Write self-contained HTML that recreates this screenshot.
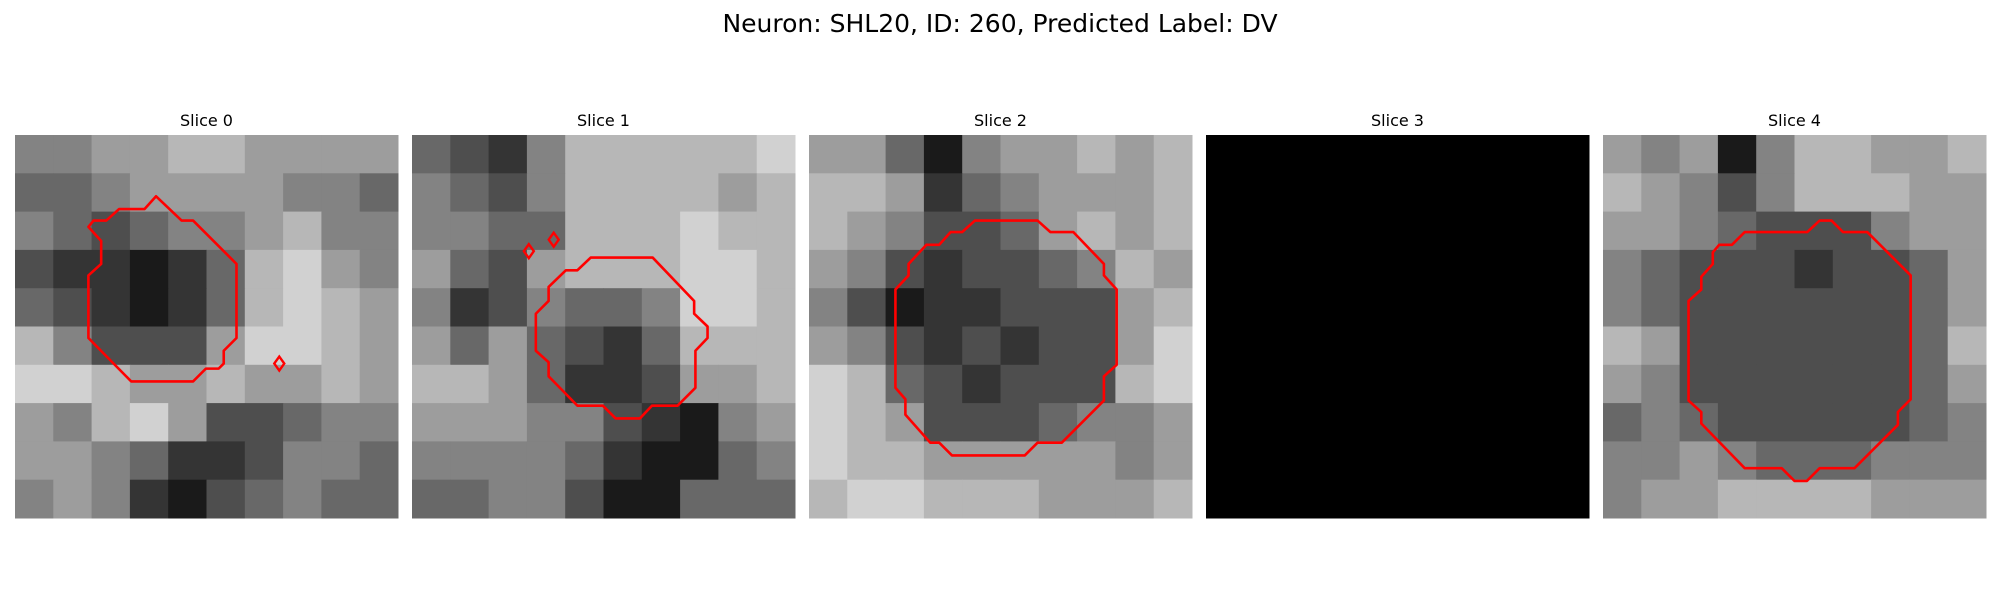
<!DOCTYPE html>
<html><head><meta charset="utf-8"><style>
body{margin:0;background:#fff;width:2000px;height:600px;overflow:hidden;font-family:"Liberation Sans","DejaVu Sans",sans-serif}
</style></head><body>
<svg id="fig" width="2000" height="600" xmlns="http://www.w3.org/2000/svg">
<text x="1000" y="32" text-anchor="middle" font-size="25" font-family="DejaVu Sans, Liberation Sans, sans-serif">Neuron: SHL20, ID: 260, Predicted Label: DV</text>
</svg>
<script>
const sliceTitles = ["Slice 0","Slice 1","Slice 2","Slice 3","Slice 4"];
const panelX = [15, 412, 809, 1206, 1603];
const grid0 = [
[5,5,6,6,7,7,6,6,6,6],[4,4,5,6,6,6,6,5,5,4],[5,4,3,4,5,5,6,7,5,5],[3,2,2,1,2,4,7,8,6,5],[4,3,2,1,2,4,7,8,7,6],
[7,5,3,3,3,6,8,8,7,6],[8,8,7,6,6,7,6,6,7,6],[6,5,7,8,6,3,3,4,5,5],[6,6,5,4,2,2,3,5,5,4],[5,6,5,2,1,3,4,5,4,4]];
const grid1 = [
[4,3,2,5,7,7,7,7,7,8],[5,4,3,5,7,7,7,7,6,7],[5,5,4,4,7,7,7,8,7,7],[6,4,3,6,7,7,7,8,8,7],[5,2,3,5,4,4,5,8,8,7],
[6,4,6,4,3,2,4,7,7,7],[7,7,6,4,2,2,3,6,6,7],[6,6,6,5,5,3,2,1,5,6],[5,5,5,5,4,2,1,1,4,5],[4,4,5,5,3,1,1,4,4,4]];
const grid2 = [
[6,6,4,1,5,6,6,7,6,7],[7,7,6,2,4,5,6,6,6,7],[7,6,5,3,3,4,6,7,6,7],[6,5,3,2,3,3,4,5,7,6],[5,3,1,2,2,3,3,3,6,7],
[6,5,3,2,3,2,3,3,6,8],[8,7,4,3,2,3,3,3,7,8],[8,7,6,3,3,3,4,5,5,6],[8,7,7,6,6,6,6,6,5,6],[7,8,8,7,7,7,6,6,6,7]];
const grid3 = [
[0,0,0,0,0,0,0,0,0,0],[0,0,0,0,0,0,0,0,0,0],[0,0,0,0,0,0,0,0,0,0],[0,0,0,0,0,0,0,0,0,0],[0,0,0,0,0,0,0,0,0,0],
[0,0,0,0,0,0,0,0,0,0],[0,0,0,0,0,0,0,0,0,0],[0,0,0,0,0,0,0,0,0,0],[0,0,0,0,0,0,0,0,0,0],[0,0,0,0,0,0,0,0,0,0]];
const grid4 = [
[6,5,6,1,5,7,7,6,6,7],[7,6,5,3,5,7,7,7,6,6],[6,6,5,4,3,3,3,5,6,6],[5,4,3,3,3,2,3,3,4,6],[5,4,3,3,3,3,3,3,4,6],
[7,6,3,3,3,3,3,3,4,7],[6,5,3,3,3,3,3,3,4,6],[4,5,4,3,3,3,3,3,4,5],[5,5,6,5,4,4,4,5,5,5],[5,6,6,7,7,7,7,6,6,6]];
const grids = [grid0, grid1, grid2, grid3, grid4];
const contour0 = [[11.05,4.8],[13.05,6.7],[13.95,6.7],[17.35,10.1],[17.35,15.9],[16.35,16.9],[16.35,17.9],[15.95,18.3],[14.95,18.3],[13.95,19.3],[9.1,19.3],[5.75,15.9],[5.75,11],[6.75,10.1],[6.75,8.3],[5.75,7.2],[6.15,6.7],[7.15,6.7],[8.15,5.8],[10.15,5.8]];
const contour1 = [[14,9.6],[18.85,9.6],[22.1,13],[22.1,14],[23.15,15],[23.15,15.9],[22.2,16.9],[22.2,19.8],[20.8,21.2],[18.8,21.2],[17.85,22.2],[15.95,22.2],[14.95,21.2],[12.95,21.2],[10.7,18.9],[10.7,17.8],[9.7,16.9],[9.7,14],[10.7,13],[10.7,11.9],[12.05,10.6],[12.95,10.6]];
const contour2 = [[6.77,12.1],[6.77,19.8],[7.55,20.7],[7.55,21.9],[9.5,24.1],[10.2,24.1],[11.2,25.1],[16.9,25.1],[17.9,24.1],[19.8,24.1],[23.1,20.8],[23.1,18.9],[24.1,18],[24.1,12.1],[23.1,11],[23.1,10.1],[20.7,7.6],[18.9,7.6],[17.9,6.7],[13,6.7],[12,7.6],[11.1,7.6],[10.2,8.6],[9.2,8.6],[7.8,10.1],[7.8,11]];
const contour4 = [[16.97,6.7],[17.9,6.7],[18.8,7.6],[20.7,7.6],[24.1,11],[24.1,20.7],[23.1,21.7],[23.1,22.7],[19.7,26.1],[16.97,26.1],[15.97,27.1],[15,27.1],[14,26.1],[11.1,26.1],[7.7,22.6],[7.7,21.7],[6.7,20.8],[6.7,13],[7.7,12.1],[7.7,11.1],[8.6,10.1],[8.6,9.2],[9.1,8.6],[10.1,8.6],[11.1,7.6],[16,7.6]];
const contours = [[contour0],[contour1],[contour2],[],[contour4]];
const dots = [[[20.7,17.9]],[[9.15,9.1],[11.1,8.2]],[],[],[]];

const NS = "http://www.w3.org/2000/svg";
const svg = document.getElementById('fig');
const PY = 135, PS = 383, N = 30;
function el(t, a){const e=document.createElementNS(NS,t);for(const k in a)e.setAttribute(k,a[k]);return e;}
function sx(p, c){return panelX[p] + c/N*PS;}
function sy(r){return PY + r/N*PS;}
grids.forEach((g, p) => {
  const grp = el('g', {});
  
  
  svg.appendChild(grp);
  const t = el('text', {x: panelX[p] + PS/2, y: 126, 'text-anchor': 'middle', 'font-size': 16, 'font-family': 'DejaVu Sans, Liberation Sans, sans-serif'});
  t.textContent = sliceTitles[p];
  
  
  grp.appendChild(t);
  const rows = g.length, cols = g[0].length;
  g.forEach((row, r) => row.forEach((v, c) => {
    const x0 = panelX[p] + c/cols*PS, y0 = PY + r/rows*PS;
    const lv = Math.round(v/9*235);
    const rc = el('rect', {x: x0, y: y0, width: PS/cols + 0.5, height: PS/rows + 0.5, fill: `rgb(${lv},${lv},${lv})`});
    
    
    grp.appendChild(rc);
  }));
  contours[p].forEach(poly => {
    const pts = poly.map(q => sx(p, q[0]) + ',' + sy(q[1])).join(' ');
    const pg = el('polygon', {points: pts, fill: 'none', stroke: '#ff0000', 'stroke-width': 2.6, 'stroke-linejoin': 'round'});
    
    
    grp.appendChild(pg);
  });
  dots[p].forEach(d => {
    const x = sx(p, d[0]), y = sy(d[1]);
    const pts = [[x, y-7],[x+5, y],[x, y+7],[x-5, y]].map(a => a.join(',')).join(' ');
    const dm = el('polygon', {points: pts, fill: 'none', stroke: '#ff0000', 'stroke-width': 2.4});
    
    
    grp.appendChild(dm);
  });
});
</script>
</body></html>
